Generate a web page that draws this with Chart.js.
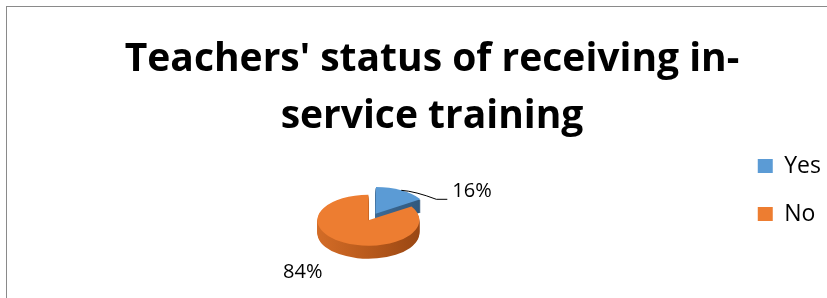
<!DOCTYPE html>
<html>
<head>
<meta charset="utf-8">
<script src="https://cdn.jsdelivr.net/npm/chart.js@4"></script>
<style>
    html, body { margin: 0; padding: 0; overflow: hidden; background: #fff; }
    #frame { position: absolute; left: 6px; top: 6px; width: 1000px; height: 1000px; border: 1px solid #8a8a8a; }
    #wrap { position: absolute; left: 0; top: 0; width: 831px; height: 311px; }
</style>
</head>
<body>
<div id="frame"></div>
<div id="wrap"><canvas id="trainingChart"></canvas></div>
<script>
const categories = ['Yes', 'No'];
const shares = [16, 84];
const topColors = ['#5B9BD5', '#ED7D31'];
const sideColors = [['#4a7fb0', '#3d6a95', '#2f5578'], ['#d36c27', '#b85a1c', '#9a4713']];
const explode = [60, 0];
const titleLines = ["Teachers' status of receiving in-", 'service training'];

const tilt = 0.5;
const depth = 13;

function arcGeom(arc) {
    const p = arc.getProps(['x', 'y', 'startAngle', 'endAngle', 'outerRadius', 'circumference']);
    const off = (arc.options.offset || 0) / 4;
    const mid = (p.startAngle + p.endAngle) / 2;
    const fix = 1 - Math.sin(Math.min(Math.PI, p.circumference || 0));
    return {
        cx: p.x, cy: p.y,
        x: p.x + Math.cos(mid) * off,
        y: p.y + Math.sin(mid) * off,
        r: p.outerRadius + off * fix,
        s: p.startAngle, e: p.endAngle, mid: mid
    };
}

// empty box between the pie and the legend
const legendGap = {
    id: 'legendGap',
    beforeInit(chart) {
        Chart.layouts.addBox(chart, {
            position: 'right',
            weight: 500,
            fullSize: false,
            options: {},
            left: 0, top: 0, right: 0, bottom: 0, width: 0, height: 0,
            isHorizontal() { return false; },
            update(maxWidth, maxHeight) {
                this.width = 29;
                this.height = maxHeight;
            },
            draw() {}
        });
    }
};

// squash the pie into an ellipse and give it some thickness
const pie3d = {
    id: 'pie3d',
    beforeDatasetsDraw(chart) {
        const ctx = chart.ctx;
        const arcs = chart.getDatasetMeta(0).data;
        if (!arcs.length) return;
        const cy = arcs[0].y;
        arcs.forEach((arc, idx) => {
            const g = arcGeom(arc);
            const grad = ctx.createLinearGradient(g.x - g.r, 0, g.x + g.r, 0);
            grad.addColorStop(0, sideColors[idx][0]);
            grad.addColorStop(0.5, sideColors[idx][1]);
            grad.addColorStop(1, sideColors[idx][2]);
            for (let i = depth; i >= 1; i--) {
                ctx.save();
                ctx.translate(0, i + cy * (1 - tilt));
                ctx.scale(1, tilt);
                ctx.beginPath();
                ctx.moveTo(g.x, g.y);
                ctx.arc(g.x, g.y, g.r, g.s, g.e);
                ctx.closePath();
                ctx.fillStyle = grad;
                ctx.fill();
                ctx.restore();
            }
        });
        ctx.save();
        ctx.translate(0, cy * (1 - tilt));
        ctx.scale(1, tilt);
    },
    afterDatasetsDraw(chart) {
        const ctx = chart.ctx;
        ctx.restore();
        const arcs = chart.getDatasetMeta(0).data;
        ctx.save();
        ctx.font = '20px "Open Sans"';
        ctx.fillStyle = '#000';
        ctx.strokeStyle = '#000';
        ctx.lineWidth = 1;
        ctx.textBaseline = 'middle';
        arcs.forEach((arc, idx) => {
            const g = arcGeom(arc);
            const px = g.x + Math.cos(g.mid) * g.r;
            const py = g.cy + (g.y + Math.sin(g.mid) * g.r - g.cy) * tilt;
            const text = shares[idx] + '%';
            if (idx === 0) {
                ctx.beginPath();
                ctx.moveTo(px, py);
                ctx.quadraticCurveTo(px + 14, py + 1, px + 35, py + 9);
                ctx.lineTo(px + 46, py + 9);
                ctx.stroke();
                ctx.textAlign = 'left';
                ctx.fillText(text, px + 51, py + 1);
            } else {
                ctx.textAlign = 'center';
                ctx.fillText(text, px - 41, py + 30);
            }
        });
        ctx.restore();
    }
};

var ctx = document.getElementById('trainingChart').getContext('2d');
var trainingChart = new Chart(ctx, {
    type: 'pie',
    data: {
        labels: categories,
        datasets: [{
            data: shares,
            backgroundColor: topColors,
            borderWidth: 0,
            offset: explode,
            radius: 51,
            clip: false
        }]
    },
    options: {
        responsive: true,
        maintainAspectRatio: false,
        animation: false,
        layout: {
            padding: { left: 33, right: 0, top: 0, bottom: 0 }
        },
        plugins: {
            title: {
                display: true,
                text: titleLines,
                color: '#000',
                font: { family: 'Open Sans', size: 39, weight: 'bold', lineHeight: '57px' },
                padding: { top: 31, bottom: -15.5 }
            },
            legend: {
                display: true,
                position: 'right',
                align: 'start',
                fullSize: false,
                labels: {
                    color: '#000',
                    boxWidth: 15,
                    boxHeight: 14,
                    padding: 25,
                    font: { family: 'Open Sans', size: 23 }
                }
            },
            tooltip: { enabled: false }
        }
    },
    plugins: [pie3d, legendGap]
});
</script>
</body>
</html>
